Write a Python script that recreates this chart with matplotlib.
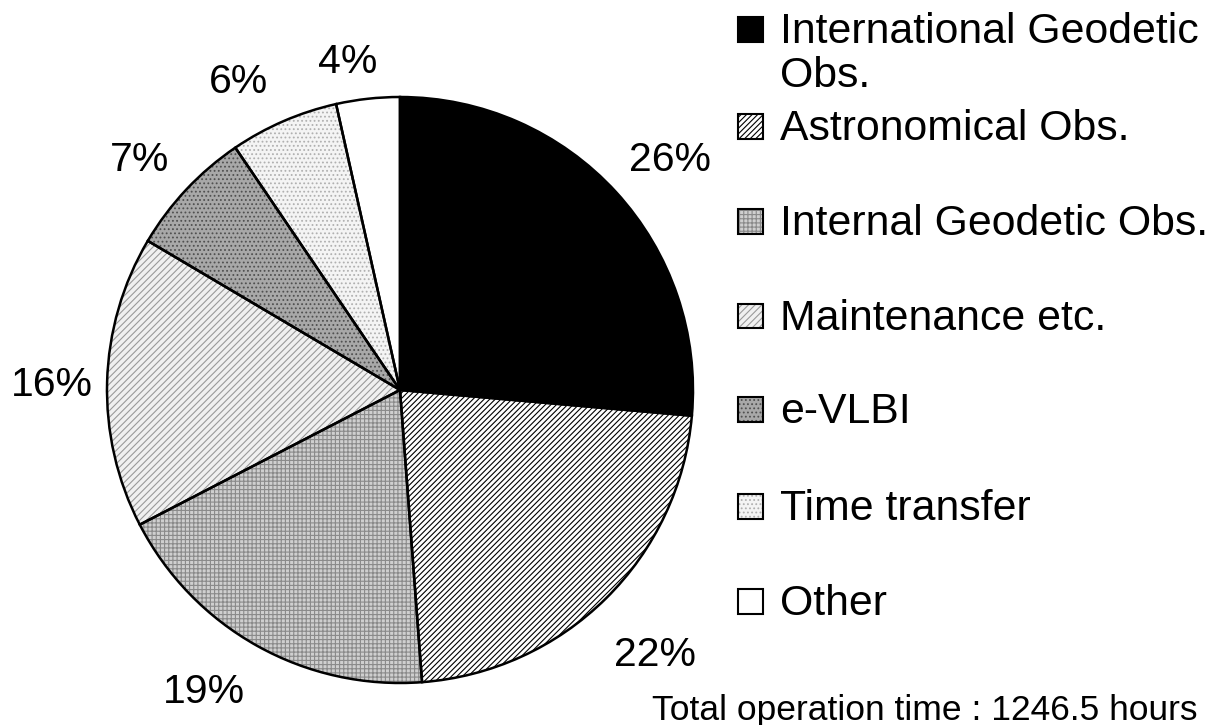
import matplotlib
matplotlib.use("Agg")
import numpy as np
import matplotlib.pyplot as plt
from matplotlib.patches import Rectangle

plt.rcParams['font.family'] = ['Liberation Sans', 'DejaVu Sans']
plt.rcParams['hatch.linewidth'] = 0.8

categories = ["International Geodetic\nObs.", "Astronomical Obs.", "Internal Geodetic Obs.",
              "Maintenance etc.", "e-VLBI", "Time transfer", "Other"]
values = [26.4, 22.4, 18.6, 16.1, 7.0, 6.0, 3.5]   # percent of operation time
footer = "Total operation time : 1246.5 hours"

faces = ['black', 'white', '#cfcfcf', '#f0f0f0', '#a8a8a8', '#f4f4f4', 'white']
hatches = [None, '//////', '++++', '/////', '....', '....', None]
hatch_cols = ['black', 'black', '#8a8a8a', '#9a9a9a', '#505050', '#b0b0b0', 'black']
# label placement (style): radial distance and angular nudge in degrees
label_dist = [1.21, 1.255, 1.227, 1.188, 1.185, 1.188, 1.133]
label_nudge = [-2.1, -0.7, -3.8, 0.8, 1.7, 4.2, 2.7]

W, H = 1219, 725
fig = plt.figure(figsize=(W / 100, H / 100), dpi=100)
cx, cy, r = 400, 390, 293
ax = fig.add_axes([(cx - r) / W, (H - cy - r) / H, 2 * r / W, 2 * r / H])

wedges, _, autotexts = ax.pie(values, startangle=90, counterclock=False,
                              autopct=lambda p: f"{int(round(p + 1e-9))}%",
                              pctdistance=1.2,
                              wedgeprops=dict(linewidth=0),
                              textprops=dict(fontsize=29.5))
for w, fc, h, hc in zip(wedges, faces, hatches, hatch_cols):
    w.set_facecolor(fc)
    w.set_edgecolor(hc)
    if h:
        w.set_hatch(h)
for w, t, d, n in zip(wedges, autotexts, label_dist, label_nudge):
    mid = np.deg2rad((w.theta1 + w.theta2) / 2 + n)
    t.set_position((d * np.cos(mid), d * np.sin(mid)))
# outlines
ax.pie(values, startangle=90, counterclock=False,
       wedgeprops=dict(fill=False, edgecolor='black', linewidth=1.8))
ax.set_aspect('equal')
ax.set_xlim(-1, 1)
ax.set_ylim(-1, 1)
ax.axis('off')

# legend drawn manually (baseline of each text line, in pixels from top)
baselines = [43, 140, 235, 330, 423, 520, 615]
line_pitch = 44
sq = 25
for lab, fc, h, hc, yb in zip(categories, faces, hatches, hatch_cols, baselines):
    ymid = yb - 14
    y0 = (H - ymid - sq / 2) / H
    fig.add_artist(Rectangle((738 / W, y0), sq / W, sq / H,
                             transform=fig.transFigure, facecolor=fc, edgecolor=hc,
                             hatch=h, linewidth=0))
    fig.add_artist(Rectangle((738 / W, y0), sq / W, sq / H,
                             transform=fig.transFigure, fill=False,
                             edgecolor='black', linewidth=1.5))
    for k, line in enumerate(lab.split('\n')):
        fig.text(780 / W, (H - yb - k * line_pitch) / H, line, fontsize=30.8,
                 va='baseline', ha='left')

fig.text(1197 / W, (H - 720) / H, footer, fontsize=25.5, ha='right', va='baseline')

fig.savefig("out.png", dpi=100)
